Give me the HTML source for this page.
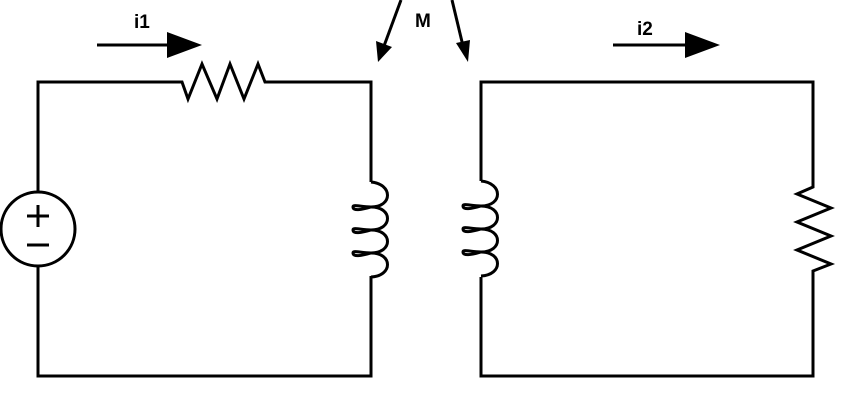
<!DOCTYPE html>
<html><head><meta charset="utf-8"><style>
html,body{margin:0;padding:0;background:#fff;}
svg{display:block;}
text{font-family:"Liberation Sans",Arial,sans-serif;font-weight:bold;font-size:19px;fill:#000;}
</style></head><body>
<svg width="849" height="404" viewBox="0 0 849 404" xmlns="http://www.w3.org/2000/svg">
<defs>
<g id="coil" fill="none" stroke="#000" stroke-width="3">
<path d="M0,0 C22,2 22,25 0,25 C-10,25 -18,22 -18,25 C-18,29 -10,28 0,25 C22,25 22,48 0,48 C-10,48 -18,45 -18,48 C-18,52 -10,51 0,48 C22,48 22,71 0,71 C-10,71 -18,68 -18,71 C-18,75 -10,74 0,71 C22,71 22,94 0,95"/>
</g>
</defs>
<g fill="none" stroke="#000" stroke-width="3" stroke-linejoin="miter">
<polyline points="38,192 38,82 182,82 188,99 202,64 217,99 230,64 244,99 258,64 265,82 371,82 371,182"/>
<polyline points="371,276 371,376 38,376 38,266"/>
<circle cx="38" cy="229" r="37"/>
<line x1="27" y1="216" x2="49" y2="216"/>
<line x1="38" y1="205" x2="38" y2="227"/>
<line x1="27" y1="245" x2="49" y2="245"/>
<polyline points="481,181 481,82 813,82 813,187 797,194 831,208 797,222 831,236 797,250 831,264 813,271 813,376 481,376 481,277"/>
<line x1="97" y1="45" x2="170" y2="45"/>
<line x1="613" y1="45" x2="688" y2="45"/>
<line x1="401" y1="0" x2="384" y2="46"/>
<line x1="452" y1="0" x2="463" y2="46"/>
</g>
<use href="#coil" x="371" y="182"/>
<use href="#coil" x="481" y="181"/>
<polygon points="167,32 202,45 167,58" fill="#000"/>
<polygon points="685,32 720,45 685,58" fill="#000"/>
<polygon points="376,41 392,47 378,62" fill="#000"/>
<polygon points="456,43 470,40 468,62" fill="#000"/>
<text x="134" y="28">i1</text>
<text x="415" y="27">M</text>
<text x="637" y="35">i2</text>
</svg>
</body></html>
